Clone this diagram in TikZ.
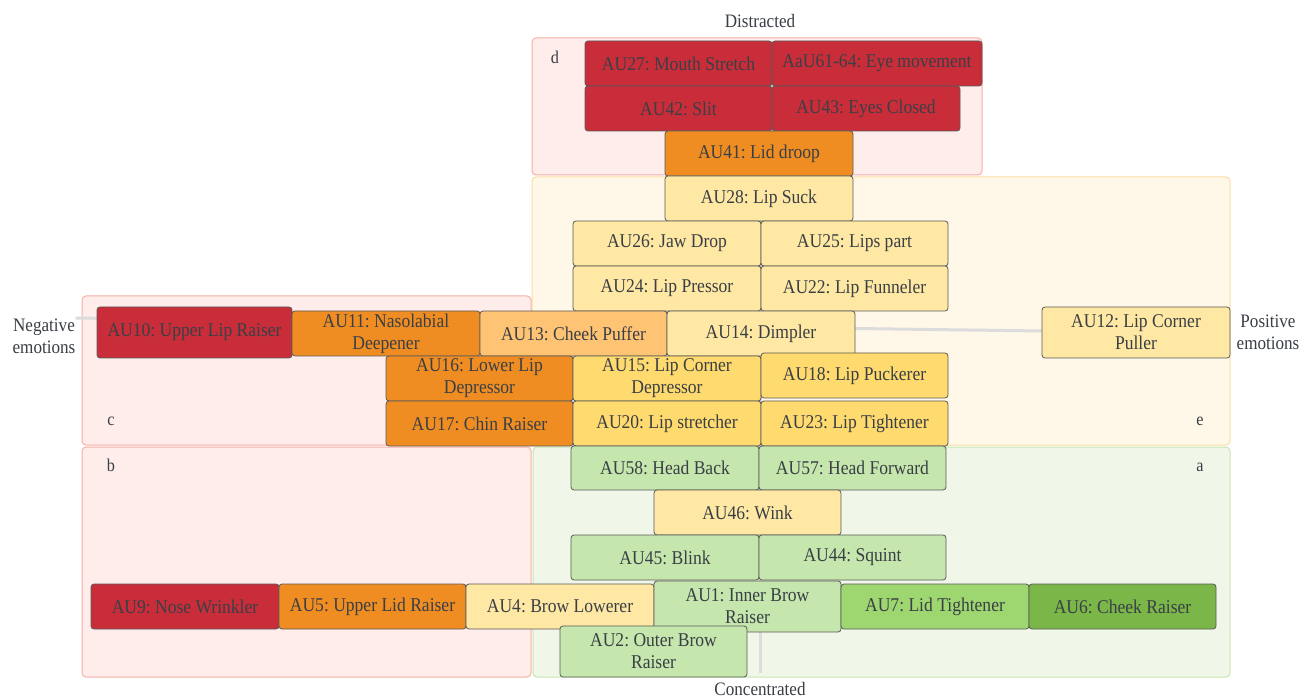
\documentclass[tikz,border=0pt]{standalone}
\usepackage{fontspec}
\setmainfont{Liberation Serif}
\newfontfamily\boxfont[FakeStretch=0.9]{Liberation Serif}
\frenchspacing
\definecolor{txt}{HTML}{3A3F46}
\definecolor{boxline}{HTML}{5A5A5A}
\definecolor{cred}{HTML}{C92D39}
\definecolor{corange}{HTML}{EF8D22}
\definecolor{clorange}{HTML}{FFC374}
\definecolor{clyellow}{HTML}{FFE8A3}
\definecolor{cyellow}{HTML}{FFDA6E}
\definecolor{cgreen}{HTML}{C5E6AC}
\definecolor{cmgreen}{HTML}{9ED670}
\definecolor{cdgreen}{HTML}{7AB648}
\definecolor{pinkfill}{HTML}{FFEDEB}
\definecolor{pinkline}{HTML}{F7AFA6}
\definecolor{yelfill}{HTML}{FFF8E8}
\definecolor{yelline}{HTML}{FADDA8}
\definecolor{grnfill}{HTML}{F0F7E8}
\definecolor{grnline}{HTML}{C8E6B2}
\definecolor{axisgray}{HTML}{DCDCDC}
\tikzset{
  box/.style={draw=boxline, rounded corners=3pt, line width=0.8pt, inner sep=0pt,
    align=center, text=txt, font=\boxfont\fontsize{19.5}{22}\selectfont\frenchspacing},
  region/.style={rounded corners=4pt, line width=1pt},
  pinkreg/.style={region, fill=pinkfill, draw=pinkline},
  yelreg/.style={region, fill=yelfill, draw=yelline},
  grnreg/.style={region, fill=grnfill, draw=grnline},
  lbl/.style={text=txt, align=center, font=\boxfont\fontsize{19}{22}\selectfont, inner sep=0pt},
  letter/.style={text=txt, font=\boxfont\fontsize{18}{18}\selectfont, inner sep=0pt},
  axis/.style={draw=axisgray, line width=3pt}
}
\newcommand\aubox[7]{\node[box, fill=#6, minimum width={#4-#2}, minimum height={#5-#3}] (#1) at ({(#2+#4)/2},{(#3+#5)/2}) {#7};}
\begin{document}
\begin{tikzpicture}[x=1pt,y=-1pt]
\useasboundingbox[fill=white] (0,0) rectangle (1301,700);
% regions
\draw[pinkreg] (532,38) rectangle (982,175);
\draw[yelreg] (532,177) rectangle (1230,445);
\draw[pinkreg] (82,296) rectangle (531,445);
\draw[pinkreg] (82,447) rectangle (531,677);
\draw[grnreg] (533,447) rectangle (1230,677);
% axis labels
\node[lbl] (dis) at (760,21) {Distracted};
\node[lbl] (conc) at (760,689) {Concentrated};
\node[lbl] (neg) at (44,336) {Negative\\emotions};
\node[lbl] (pos) at (1268,332) {Positive\\emotions};
% region letters
\node[letter] (la) at (1200,467) {a};
\node[letter] (lb) at (111,465) {b};
\node[letter] (lc) at (111,421) {c};
\node[letter] (ld) at (555,57) {d};
\node[letter] (le) at (1200,421) {e};
% axis connectors (behind the boxes)
\coordinate (au12w) at (1042,331);
\coordinate (vtop) at (760,41);
\coordinate (vbot) at (760,673);
\draw[axis] ([yshift=18pt]neg.east) -- (au12w);
\draw[axis] (vtop) -- (vbot);
% boxes
\aubox{au27}{585}{41}{772}{86}{cred}{AU27: Mouth Stretch}
\aubox{au61}{772}{41}{982}{86}{cred}{AaU61-64: Eye movement}
\aubox{au42}{585}{86}{772}{131}{cred}{AU42: Slit}
\aubox{au43}{772}{86}{960}{131}{cred}{AU43: Eyes Closed}
\aubox{au41}{665}{131}{853}{176}{corange}{AU41: Lid droop}
\aubox{au28}{665}{176}{853}{221}{clyellow}{AU28: Lip Suck}
\aubox{au26}{573}{221}{761}{266}{clyellow}{AU26: Jaw Drop}
\aubox{au25}{761}{221}{948}{266}{clyellow}{AU25: Lips part}
\aubox{au24}{573}{266}{761}{311}{clyellow}{AU24: Lip Pressor}
\aubox{au22}{761}{266}{948}{311}{clyellow}{AU22: Lip Funneler}
\aubox{au12}{1042}{307}{1230}{358}{clyellow}{AU12: Lip Corner\\Puller}
\aubox{au10}{97}{307}{292}{358}{cred}{AU10: Upper Lip Raiser}
\aubox{au11}{292}{311}{480}{356}{corange}{AU11: Nasolabial\\Deepener}
\aubox{au13}{480}{311}{667}{356}{clorange}{AU13: Cheek Puffer}
\aubox{au14}{667}{311}{855}{356}{clyellow}{AU14: Dimpler}
\aubox{au16}{386}{356}{573}{401}{corange}{AU16: Lower Lip\\Depressor}
\aubox{au15}{573}{356}{761}{401}{cyellow}{AU15: Lip Corner\\Depressor}
\aubox{au18}{761}{353}{948}{398}{cyellow}{AU18: Lip Puckerer}
\aubox{au17}{386}{401}{573}{446}{corange}{AU17: Chin Raiser}
\aubox{au20}{573}{401}{761}{446}{cyellow}{AU20: Lip stretcher}
\aubox{au23}{761}{401}{948}{446}{cyellow}{AU23: Lip Tightener}
\aubox{au58}{571}{446}{759}{490}{cgreen}{AU58: Head Back}
\aubox{au57}{759}{446}{946}{490}{cgreen}{AU57: Head Forward}
\aubox{au46}{654}{490}{841}{535}{clyellow}{AU46: Wink}
\aubox{au45}{571}{535}{759}{580}{cgreen}{AU45: Blink}
\aubox{au44}{759}{535}{946}{580}{cgreen}{AU44: Squint}
\aubox{au9}{91}{584}{279}{629}{cred}{AU9: Nose Wrinkler}
\aubox{au5}{279}{584}{466}{629}{corange}{AU5: Upper Lid Raiser}
\aubox{au4}{466}{584}{654}{629}{clyellow}{AU4: Brow Lowerer}
\aubox{au1}{654}{581}{841}{632}{cgreen}{AU1: Inner Brow\\Raiser}
\aubox{au7}{841}{584}{1029}{629}{cmgreen}{AU7: Lid Tightener}
\aubox{au6}{1029}{584}{1216}{629}{cdgreen}{AU6: Cheek Raiser}
\aubox{au2}{560}{626}{747}{677}{cgreen}{AU2: Outer Brow\\Raiser}
\end{tikzpicture}
\end{document}
